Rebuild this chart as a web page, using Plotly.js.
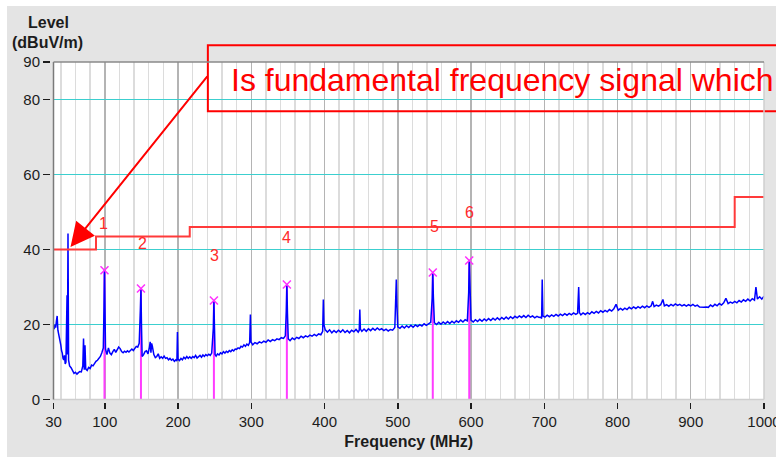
<!DOCTYPE html>
<html>
<head>
<meta charset="utf-8">
<script src="https://cdn.plot.ly/plotly-3.0.1.min.js"></script>
<style>
  html, body { margin:0; padding:0; background:#ffffff; overflow:hidden; }
  #chart { position:absolute; left:7px; top:6px; width:769px; height:451px; }
</style>
</head>
<body>
<div id="chart"></div>
<script>
// ---- data ----
const freqMHz = [
  30,31,32,33,34,35,36,37,38,39,
  40,41,42,43,44,45,46,47,48.5,49,
  49.8,50.6,52,54,56,58,60,62,64,66,
  68,70,71,72,73,74,76,78,80,82,
  84,86,88,90,92,94,96,98,99,99.6,
  100.3,101,103,105,107,109,111,113,115,117,
  119,121,123,125,127,129,131,133,135,137,
  139,141,143,145,147,148.6,149.4,150.1,151,153,
  155,157,159,161,162,163,164,165,167,169,
  171,173,175,177,179,181,183,185,187,189,
  191,193,195,197,198.5,199.2,200,202,204,206,
  208,210,212,214,216,218,220,222,224,226,
  228,230,232,234,236,238,240,242,244,246,
  248.2,249,249.8,250.6,252,254,256,258,260,262,
  264,266,268,270,272,274,276,278,280,282,
  284,286,288,290,292,294,296,297.8,298.8,299.6,
  302,305,308,311,314,317,320,323,326,329,
  332,335,338,341,344,346.5,347.8,348.6,349.4,350.5,
  353,356,359,362,365,368,371,374,377,380,
  383,386,389,392,395,397.5,398.4,399.2,401,404,
  407,410,413,416,419,422,425,428,431,434,
  437,440,443,446,447.4,448.2,449,451,454,457,
  460,463,466,469,472,475,478,481,484,487,
  490,493,496,497.2,498,498.8,500,503,506,509,
  512,515,518,521,524,527,530,533,536,539,
  542,545,547,547.8,548.6,550,553,556,559,562,
  565,568,571,574,577,580,583,586,589,592,
  595,596.8,597.6,598.4,600,603,606,609,612,615,
  618,621,624,627,630,633,636,639,642,645,
  648,651,654,657,660,663,666,669,672,675,
  678,681,684,687,690,693,695,696.4,697.2,698.2,
  701,704,707,710,713,716,719,722,725,728,
  731,734,737,740,743,745.5,746.3,747,748,750,
  753,756,759,762,765,768,771,774,777,780,
  783,786,789,792,795,798,801,804,807,810,
  813,816,819,822,825,828,831,834,837,840,
  843,846,848,850,853,856,859,862,864,867,
  870,873,876,879,882,885,888,891,894,897,
  900,903,906,909,912,915,918,921,924,927,
  930,933,936,939,942,945,948,951,954,957,
  960,963,966,969,972,975,978,981,984,987,
  989,991,994,997,1000
];
const levelDbuV = [
  19.5,18.8,20.0,19.2,21.0,22.3,18.5,17.6,16.2,15.0,
  14.5,13.0,12.4,11.0,10.6,11.8,9.5,10.0,27.8,12.0,
  44.3,10.5,9.0,8.5,7.6,7.0,7.3,6.8,7.2,7.5,
  7.4,9.0,16.3,8.0,14.5,8.2,7.8,8.6,8.3,9.2,
  9.0,9.8,10.2,10.5,11.0,11.5,12.5,13.8,25.0,34.5,
  24.0,13.5,12.0,13.8,12.4,12.0,12.8,13.4,12.6,13.2,
  14.0,13.6,12.8,12.5,12.9,12.6,13.0,12.7,13.2,13.5,
  13.1,13.6,14.2,14.0,15.0,24.0,29.6,20.0,11.5,12.0,
  12.8,13.0,12.2,14.0,15.4,12.5,15.0,14.2,12.0,11.2,
  11.5,12.2,11.0,11.4,11.0,11.6,11.0,11.2,10.6,11.0,
  10.5,10.8,10.2,10.6,10.3,18.0,10.8,10.4,11.0,10.6,
  11.3,10.9,11.5,11.0,11.4,11.0,11.5,11.2,11.8,11.1,
  11.5,11.8,11.3,11.9,11.5,12.0,11.7,12.1,11.8,12.4,
  19.0,26.4,19.0,12.0,11.6,12.2,11.9,12.5,12.2,12.8,
  12.4,12.9,12.6,13.1,12.8,13.3,13.0,13.5,13.4,13.8,
  13.6,14.2,14.0,14.6,14.2,14.8,14.5,15.2,22.7,15.4,
  14.6,15.2,14.9,15.4,15.1,15.6,15.3,15.9,15.5,16.0,
  15.7,16.2,16.0,16.5,16.3,17.0,23.5,30.7,23.0,16.2,
  15.7,16.4,16.0,16.6,16.3,16.9,16.5,17.0,16.7,17.2,
  16.9,17.4,17.0,17.5,17.3,18.2,26.7,20.0,18.6,18.0,
  18.6,17.8,18.4,17.9,18.5,18.0,18.6,17.9,18.4,17.8,
  18.5,18.1,18.7,18.0,18.5,24.0,18.8,18.2,18.8,18.2,
  18.9,18.4,19.0,18.5,19.1,18.6,18.9,18.4,18.8,18.3,
  18.7,18.5,19.2,25.0,32.0,25.5,19.4,19.0,19.6,19.1,
  19.7,19.2,19.8,19.3,19.9,19.5,20.0,19.6,20.2,19.8,
  20.3,20.6,27.0,33.9,27.5,20.5,20.0,20.6,20.1,20.7,
  20.2,20.8,20.3,20.9,20.4,21.0,20.6,21.2,20.7,21.3,
  21.0,28.5,37.1,28.0,21.2,20.7,21.3,20.8,21.4,20.9,
  21.5,21.0,21.6,21.1,21.7,21.2,21.8,21.3,21.9,21.4,
  22.0,21.5,22.1,21.6,22.2,21.8,22.3,21.9,22.4,21.9,
  22.5,22.0,22.3,21.8,22.2,21.9,22.0,21.6,32.0,22.3,
  22.0,22.5,22.1,22.6,22.2,22.7,22.3,22.8,22.4,22.9,
  22.5,23.0,22.6,23.1,22.7,23.0,26.0,30.0,23.2,22.6,
  23.1,22.7,23.2,22.8,23.4,23.0,23.5,23.1,23.7,23.3,
  23.8,23.4,24.0,23.6,24.2,25.4,23.8,24.3,23.9,24.4,
  24.0,24.6,24.2,24.7,24.3,24.8,24.4,24.9,24.5,25.0,
  24.6,25.0,26.2,24.8,25.2,24.9,25.3,26.7,25.0,25.3,
  24.9,25.4,25.0,25.5,25.1,25.4,25.0,25.3,24.9,25.3,
  25.0,25.4,24.9,25.2,24.7,24.6,24.6,24.7,24.6,25.2,
  24.8,25.4,25.0,25.6,25.2,25.8,27.0,25.6,26.0,25.7,
  26.2,25.8,26.4,26.0,26.6,26.2,26.8,26.3,26.9,26.5,
  30.0,26.8,27.4,26.8,27.6
];
const limitFreq  = [30, 88, 216, 960, 1000];
const limitLevel = [40, 43.5, 46, 54, 54];
const markerFreq   = [99.6, 149.4, 249, 348.6, 547.8, 597.6];
const markerLevel  = [34.5, 29.6, 26.4, 30.7, 33.9, 37.1];
const markerLabels = ['1', '2', '3', '4', '5', '6'];
const xTickVals = [30, 100, 200, 300, 400, 500, 600, 700, 800, 900, 1000];
const yTickVals = [0, 20, 40, 60, 80, 90];
const yGridVals = [20, 40, 60, 80];
const noteText = 'Is fundamental frequency signal which';

// ---- build traces ----
const FONT = 'Liberation Sans, Arial, sans-serif';
const stemX = [], stemY = [];
markerFreq.forEach((f, i) => { stemX.push(f, f, null); stemY.push(0, markerLevel[i], null); });

const traces = [
  { x: stemX, y: stemY, mode: 'lines', line: {color: '#ff3cff', width: 2},
    hoverinfo: 'skip', showlegend: false },
  { x: freqMHz, y: levelDbuV, mode: 'lines', line: {color: '#0000ff', width: 1.5},
    showlegend: false },
  { x: limitFreq, y: limitLevel, mode: 'lines', line: {color: '#ff3a3a', width: 2, shape: 'hv'},
    showlegend: false },
  { x: markerFreq, y: markerLevel, mode: 'markers',
    marker: {symbol: 'x-thin-open', size: 8, color: '#ff30ff', line: {color: '#ff30ff', width: 1.5}},
    showlegend: false },
  { x: [null], y: [null], xaxis: 'x2', yaxis: 'y2', mode: 'markers', showlegend: false, hoverinfo: 'skip' }
];

const annotations = markerLabels.map((t, i) => ({
  x: markerFreq[i] + [-1, 2, 1, 0, 3, 1][i],
  y: markerLevel[i] + [12.4, 12.1, 12.1, 12.5, 12.3, 12.9][i],
  xref: 'x', yref: 'y', xanchor: 'center', yanchor: 'middle', text: t, showarrow: false,
  font: {family: FONT, size: 16, color: '#ff2a2a'}
}));
annotations.push(
  { xref: 'paper', yref: 'paper', x: 0.2505, y: 0.946, xanchor: 'left', yanchor: 'middle',
    text: noteText, showarrow: false, font: {family: FONT, size: 32, color: '#ff0000'} },
  { xref: 'x', yref: 'y', x: 53.2, y: 40.7, axref: 'pixel', ayref: 'pixel', ax: 138, ay: -172,
    text: '', showarrow: true, arrowhead: 2, arrowsize: 2.4, arrowwidth: 2, arrowcolor: '#ff0000', standoff: 0 },
  { xref: 'paper', yref: 'paper', x: -0.002, y: 1.117, xanchor: 'center', yanchor: 'middle',
    text: 'Level', showarrow: false,
    font: {family: FONT, size: 16, weight: 'bold', color: '#1c1c1c'} },
  { xref: 'paper', yref: 'paper', x: -0.003, y: 1.0565, xanchor: 'center', yanchor: 'middle',
    text: '(dBuV/m)', showarrow: false,
    font: {family: FONT, size: 16, weight: 'bold', color: '#1c1c1c'} }
);

const shapes = [
  { type: 'rect', xref: 'paper', yref: 'paper', x0: 0.2211, x1: 1.2, y0: 0.855, y1: 1.049,
    line: {color: '#ff0000', width: 2}, fillcolor: 'rgba(0,0,0,0)' },
  { type: 'line', xref: 'x domain', yref: 'y domain', x0: 1, x1: 1, y0: 0, y1: 1, line: {color: '#cfcfcf', width: 1.5} },
  { type: 'line', xref: 'x domain', yref: 'y domain', x0: 0, x1: 1, y0: 0, y1: 0, line: {color: '#cfcfcf', width: 1.5} },
  { type: 'line', xref: 'x domain', yref: 'y domain', x0: 0, x1: 0, y0: 0, y1: 1, line: {color: '#7a7a7a', width: 1.5} },
  { type: 'line', xref: 'x domain', yref: 'y domain', x0: 0, x1: 1, y0: 1, y1: 1, line: {color: '#8a8a8a', width: 1.5} }
];

const layout = {
  width: 769, height: 451,
  margin: {l: 43, r: 11.5, t: 55.7, b: 55.3},
  paper_bgcolor: '#e4e4e4', plot_bgcolor: '#ffffff',
  font: {family: FONT, size: 15, color: '#1c1c1c'},
  showlegend: false,
  xaxis: {
    domain: [0.0049, 1], range: [30, 1000], tickmode: 'linear', tick0: 0, dtick: 100,
    showticklabels: false, ticks: '', showline: false, zeroline: false,
    showgrid: true, gridcolor: '#b4b4b4', gridwidth: 1.5,
    minor: {tickmode: 'linear', tick0: 0, dtick: 20, showgrid: true, gridcolor: '#dcdcdc', gridwidth: 1.5, ticks: ''},
    fixedrange: true
  },
  yaxis: {
    domain: [0.007, 1], range: [0, 90], tickmode: 'array', tickvals: yGridVals,
    showticklabels: false, ticks: '', showline: false, zeroline: false,
    showgrid: true, gridcolor: '#3ccfcf', gridwidth: 1.6, fixedrange: true
  },
  xaxis2: {
    overlaying: 'x', anchor: 'free', position: 0, side: 'bottom', range: [30, 1000],
    tickmode: 'array', tickvals: xTickVals, ticks: 'outside', ticklen: 6, tickwidth: 1.5, tickcolor: '#1c1c1c',
    showgrid: false, zeroline: false, showline: false, ticklabeloverflow: 'allow',
    tickfont: {family: FONT, size: 15, color: '#1c1c1c'},
    title: {text: 'Frequency (MHz)', standoff: 6, font: {family: FONT, size: 16, weight: 'bold', color: '#1c1c1c'}},
    fixedrange: true
  },
  yaxis2: {
    overlaying: 'y', anchor: 'free', position: 0, side: 'left', range: [0, 90],
    tickmode: 'array', tickvals: yTickVals, ticks: 'outside', ticklen: 7, tickwidth: 1.5, tickcolor: '#1c1c1c',
    showgrid: false, zeroline: false, showline: false,
    tickfont: {family: FONT, size: 15, color: '#1c1c1c'}, fixedrange: true
  },
  annotations: annotations,
  shapes: shapes
};

Plotly.newPlot('chart', traces, layout, {staticPlot: true, displayModeBar: false});
</script>
</body>
</html>
